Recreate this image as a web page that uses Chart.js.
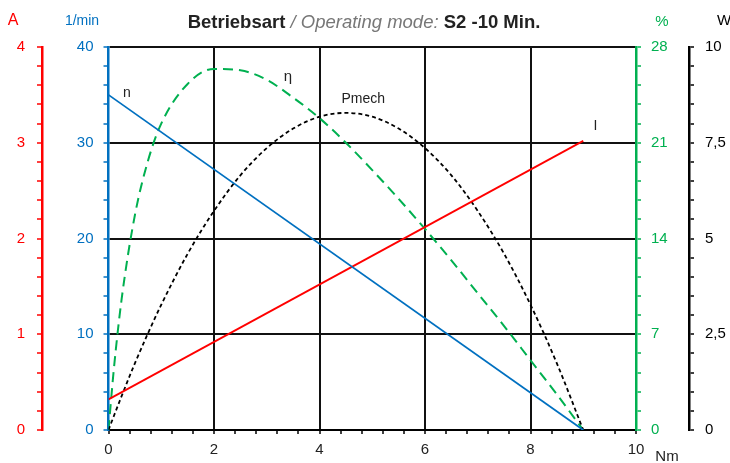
<!DOCTYPE html>
<html>
<head>
<meta charset="utf-8">
<script src="https://cdn.jsdelivr.net/npm/chart.js@4.4.0/dist/chart.umd.min.js"></script>
<style>
  html, body { margin: 0; padding: 0; background: #fff; }
</style>
</head>
<body>
<canvas id="myChart" width="730" height="463"></canvas>
<script>
// torque (Nm) readings for the curved series
const torqueNm = [0, 0.1, 0.25, 0.5, 0.75, 1, 1.5, 2, 2.5, 3, 3.5, 4, 4.5, 5, 5.5, 6, 6.5, 7, 7.5, 8, 8.5, 9];
const efficiencyPct = [0, 4.4, 9.6, 15.7, 19.7, 22.4, 25.3, 26.4, 26.3, 25.6, 24.3, 22.8, 21.0, 19.0, 16.9, 14.7, 12.4, 10.0, 7.6, 5.1, 2.6, 0];
const powerW = [0, 0.36, 0.89, 1.74, 2.53, 3.27, 4.60, 5.72, 6.65, 7.36, 7.87, 8.18, 8.28, 8.18, 7.87, 7.36, 6.65, 5.72, 4.60, 3.27, 1.74, 0];

// straight lines: speed and current
const lineTorqueNm = [0, 9];
const speedRpm = [35, 0];
const currentA = [0.32, 3.02];

// tick labels
const xMajor = [0, 2, 4, 6, 8, 10];
const xLabels = ['0', '2', '4', '6', '8', '10'];
const aMajor = [0, 1, 2, 3, 4];
const aLabels = ['0', '1', '2', '3', '4'];
const rpmMajor = [0, 10, 20, 30, 40];
const rpmLabels = ['0', '10', '20', '30', '40'];
const pctMajor = [0, 7, 14, 21, 28];
const pctLabels = ['0', '7', '14', '21', '28'];
const wMajor = [0, 2.5, 5, 7.5, 10];
const wLabels = ['0', '2,5', '5', '7,5', '10'];

const RED = '#ff0000', BLUE = '#0070c0', GREEN = '#00b050', BLACK = '#000';
const FONT = '"Liberation Sans", Arial, sans-serif';

function majorIndex(v, majors) {
  return majors.findIndex(m => Math.abs(m - v) < 1e-6);
}
function labelFor(v, majors, labels) {
  const i = majorIndex(v, majors);
  return i < 0 ? '' : labels[i];
}
function pts(xs, ys) {
  return xs.map((x, i) => ({ x: x, y: ys[i] }));
}

const textPlugin = {
  id: 'texts',
  afterDraw(chart) {
    const c = chart.ctx;
    const s = chart.scales;
    c.save();
    c.textBaseline = 'alphabetic';
    c.textAlign = 'left';

    // title
    const parts = [
      ['bold 18.5px ' + FONT, '#222', 'Betriebsart '],
      ['italic 18.5px ' + FONT, '#777', '/ Operating mode: '],
      ['bold 18.5px ' + FONT, '#222', 'S2 -10 Min.']
    ];
    let total = 0;
    parts.forEach(p => { c.font = p[0]; total += c.measureText(p[2]).width; });
    let x = 364 - total / 2;
    parts.forEach(p => {
      c.font = p[0];
      c.fillStyle = p[1];
      c.fillText(p[2], x, 28);
      x += c.measureText(p[2]).width;
    });

    // axis units
    c.textAlign = 'center';
    c.font = '16px ' + FONT;
    c.fillStyle = RED; c.fillText('A', 13, 25);
    c.font = '14px ' + FONT;
    c.fillStyle = BLUE; c.fillText('1/min', 82, 25);
    c.font = '15px ' + FONT;
    c.fillStyle = GREEN; c.fillText('%', 662, 26);
    c.textAlign = 'left';
    c.fillStyle = BLACK; c.fillText('W', 717, 25);
    c.textAlign = 'center';
    c.fillStyle = '#222';
    c.fillText('Nm', 667, 461);

    // curve names
    c.font = '14px ' + FONT;
    c.textBaseline = 'middle';
    c.fillStyle = '#222';
    c.fillText('n', s.x.getPixelForValue(0.35), s.yRpm.getPixelForValue(35.2));
    c.font = '15px ' + FONT;
    c.fillText('η', s.x.getPixelForValue(3.4), s.yPct.getPixelForValue(25.8));
    c.font = '14px ' + FONT;
    c.fillText('Pmech', s.x.getPixelForValue(4.83), s.yW.getPixelForValue(8.65));
    c.fillText('I', s.x.getPixelForValue(9.23), s.yA.getPixelForValue(3.17));
    c.restore();
  }
};

function yAxis(opts) {
  return {
    type: 'linear',
    position: opts.position,
    weight: opts.weight,
    min: 0,
    max: opts.max,
    afterFit: (scale) => { scale.width = opts.width; },
    border: { color: opts.color, width: 2.5 },
    grid: {
      drawOnChartArea: !!opts.grid,
      color: (ctx) => {
        if (!opts.grid) return 'rgba(0,0,0,0)';
        const v = ctx.tick.value;
        return (majorIndex(v, opts.majors) > 0) ? '#111' : 'rgba(0,0,0,0)';
      },
      lineWidth: 2,
      tickColor: opts.color,
      tickLength: 5,
      tickWidth: 1.5
    },
    ticks: {
      stepSize: opts.step,
      autoSkip: false,
      color: opts.color,
      padding: opts.padding,
      font: { family: FONT, size: 15 },
      callback: (v) => labelFor(v, opts.majors, opts.labels)
    }
  };
}

const ctx = document.getElementById('myChart').getContext('2d');
new Chart(ctx, {
  type: 'line',
  data: {
    datasets: [
      {
        label: 'n',
        data: pts(lineTorqueNm, speedRpm),
        yAxisID: 'yRpm',
        borderColor: BLUE,
        borderWidth: 1.8,
        pointRadius: 0
      },
      {
        label: 'I',
        data: pts(lineTorqueNm, currentA),
        yAxisID: 'yA',
        borderColor: RED,
        borderWidth: 1.8,
        pointRadius: 0
      },
      {
        label: 'Pmech',
        data: pts(torqueNm, powerW),
        yAxisID: 'yW',
        borderColor: BLACK,
        borderWidth: 1.8,
        borderDash: [4, 3],
        cubicInterpolationMode: 'monotone',
        pointRadius: 0
      },
      {
        label: 'η',
        data: pts(torqueNm, efficiencyPct),
        yAxisID: 'yPct',
        borderColor: GREEN,
        borderWidth: 2,
        borderDash: [10, 6],
        cubicInterpolationMode: 'monotone',
        pointRadius: 0
      }
    ]
  },
  options: {
    responsive: false,
    animation: false,
    devicePixelRatio: 1,
    layout: { padding: { top: 47, left: 0, right: 0, bottom: 0 } },
    plugins: { legend: { display: false }, tooltip: { enabled: false }, title: { display: false } },
    scales: {
      x: {
        type: 'linear',
        min: 0,
        max: 10,
        afterFit: (scale) => { scale.height = 33; },
        border: { color: BLACK, width: 2 },
        grid: {
          color: (ctx) => {
            const i = majorIndex(ctx.tick.value, xMajor);
            return (i > 0 && i < xMajor.length - 1) ? '#111' : 'rgba(0,0,0,0)';
          },
          lineWidth: 2,
          tickColor: BLACK,
          tickLength: 4,
          tickWidth: 1.5
        },
        ticks: {
          stepSize: 0.4,
          autoSkip: false,
          maxRotation: 0,
          color: '#222',
          padding: 7,
          font: { family: FONT, size: 15 },
          callback: (v) => labelFor(v, xMajor, xLabels)
        }
      },
      yA: yAxis({ position: 'left', weight: 1, max: 4, step: 0.2, width: 42, color: RED, padding: 12, majors: aMajor, labels: aLabels }),
      yRpm: yAxis({ position: 'left', weight: 0, max: 40, step: 2, width: 66.5, color: BLUE, padding: 10, majors: rpmMajor, labels: rpmLabels, grid: true }),
      yPct: yAxis({ position: 'right', weight: 0, max: 28, step: 1.4, width: 53, color: GREEN, padding: 10, majors: pctMajor, labels: pctLabels }),
      yW: yAxis({ position: 'right', weight: 1, max: 10, step: 0.5, width: 41, color: BLACK, padding: 11, majors: wMajor, labels: wLabels })
    }
  },
  plugins: [textPlugin]
});
</script>
</body>
</html>
